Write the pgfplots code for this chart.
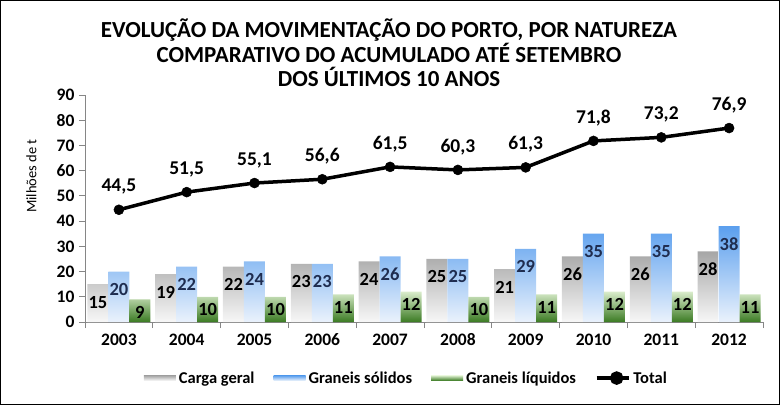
\documentclass[border=0pt]{standalone}
\usepackage{pgfplots}
\pgfplotsset{compat=1.18}
\usepackage{fontspec}
\setmainfont{Carlito}
\definecolor{axgray}{HTML}{868686}
\definecolor{gtop}{HTML}{A6A6A6}
\definecolor{gbot}{HTML}{F7F7F7}
\definecolor{btop}{HTML}{5B9FEE}
\definecolor{bbot}{HTML}{EAF2FC}
\definecolor{vtop}{HTML}{D9ECCB}
\definecolor{vbot}{HTML}{3A7A22}
\definecolor{navy}{HTML}{1F2D50}
\begin{document}
\begin{tikzpicture}[x=1pt,y=1pt]
\path[use as bounding box] (0,0) rectangle (780,405);
\draw[black, line width=1pt] (0.5,0.5) rectangle (779.5,404.5);
\node[align=center, font=\fontsize{23}{24.5}\selectfont\bfseries] at (389,352) {EVOLUÇÃO DA MOVIMENTAÇÃO DO PORTO, POR NATUREZA\\COMPARATIVO DO ACUMULADO ATÉ SETEMBRO\\DOS ÚLTIMOS 10 ANOS};
\begin{axis}[
  at={(85pt,83pt)}, anchor=south west,
  scale only axis, width=678pt, height=227pt,
  xmin=-0.5, xmax=9.5, ymin=0, ymax=90,
  axis x line*=bottom, axis y line*=left,
  axis line style={axgray, line width=0.8pt},
  xtick={0,...,9},
  xticklabels={2003,2004,2005,2006,2007,2008,2009,2010,2011,2012},
  minor xtick={-0.5,0.5,...,9.5},
  major x tick style={draw=none},
  minor x tick style={axgray, line width=0.8pt},
  minor tick length=6pt,
  ytick={0,10,...,90},
  y tick style={axgray, line width=0.8pt},
  major tick length=6pt,
  tick align=outside,
  /pgf/number format/assume math mode=true,
  ticklabel style={font=\fontsize{17.5}{19}\selectfont\bfseries},
  xticklabel style={yshift=-2pt},
  yticklabel style={xshift=-1pt},
  ylabel={Milhões de t},
  every axis y label/.style={at={(axis description cs:-0.079,0.643)}, rotate=90, anchor=center, font=\fontsize{14.5}{16}\selectfont},
  legend columns=4,
  legend style={draw=none, fill=none, at={(axis description cs:0.474,-0.247)}, anchor=center,
    font=\fontsize{16.5}{18}\selectfont\bfseries, column sep=1pt, /tikz/every even column/.append style={column sep=17pt}},
  clip=false,
]
\addplot[ybar, bar width=21pt, bar shift=-21pt, draw=none, shading=axis, top color=gtop, bottom color=gbot,
  nodes near coords, every node near coord/.append style={anchor=center, xshift=-21pt, yshift=-18pt, font=\fontsize{18.5}{20}\selectfont\bfseries, text=black},
  legend image code/.code={\shade[top color=gtop,bottom color=gbot] (0pt,-2.5pt) rectangle (32pt,2.5pt);}]
  coordinates {(0,15) (1,19) (2,22) (3,23) (4,24) (5,25) (6,21) (7,26) (8,26) (9,28)};
\addlegendentry{Carga geral}
\addplot[ybar, bar width=21pt, bar shift=0pt, draw=none, shading=axis, top color=btop, bottom color=bbot,
  nodes near coords, every node near coord/.append style={anchor=center, yshift=-18pt, font=\fontsize{18.5}{20}\selectfont\bfseries, text=navy},
  legend image code/.code={\shade[top color=btop,bottom color=bbot] (0pt,-2.5pt) rectangle (32pt,2.5pt);}]
  coordinates {(0,20) (1,22) (2,24) (3,23) (4,26) (5,25) (6,29) (7,35) (8,35) (9,38)};
\addlegendentry{Graneis sólidos}
\addplot[ybar, bar width=21pt, bar shift=21pt, draw=none, shading=axis, top color=vtop, bottom color=vbot,
  nodes near coords, every node near coord/.append style={anchor=center, xshift=21pt, yshift=-13pt, font=\fontsize{18.5}{20}\selectfont\bfseries, text=black},
  legend image code/.code={\shade[top color=vtop,bottom color=vbot] (0pt,-2.5pt) rectangle (32pt,2.5pt);}]
  coordinates {(0,9) (1,10) (2,10) (3,11) (4,12) (5,10) (6,11) (7,12) (8,12) (9,11)};
\addlegendentry{Graneis líquidos}
\addplot[black, line width=3.5pt, mark=*, mark size=5pt, mark options={line width=0.5pt},
  nodes near coords={\pgfmathprintnumber[use comma,fixed,fixed zerofill,precision=1,assume math mode=true]{\pgfplotspointmeta}},
  every node near coord/.append style={anchor=center, yshift=23pt, font=\fontsize{19.5}{21}\selectfont\bfseries, text=black},
  legend image code/.code={\draw[black,line width=3.5pt] (0pt,0pt) -- (32pt,0pt); \fill[black] (20pt,0pt) circle (5pt);}]
  coordinates {(0,44.5) (1,51.5) (2,55.1) (3,56.6) (4,61.5) (5,60.3) (6,61.3) (7,71.8) (8,73.2) (9,76.9)};
\addlegendentry{Total}
\end{axis}
\end{tikzpicture}
\end{document}
